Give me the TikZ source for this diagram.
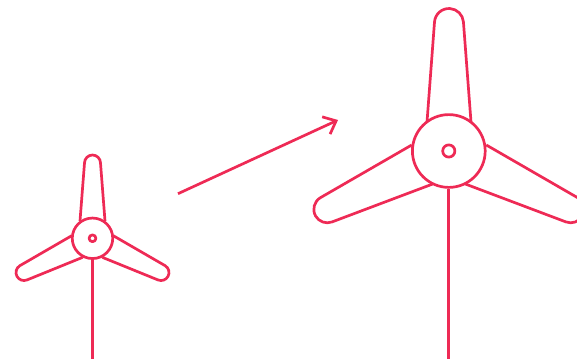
\documentclass[tikz,border=0pt]{standalone}
\usepackage{xcolor}
\usepackage{tikz}
\usetikzlibrary{arrows.meta,positioning}
\definecolor{turbinered}{HTML}{EE2A55}

\begin{document}
\begin{tikzpicture}[
x=1pt, y=-1pt,
line/.style={draw=turbinered, line width=2.7pt, line join=round},
hub/.style={circle, line, fill=white, inner sep=0pt, minimum size=#1},
arr/.style={line, -{Straight Barb[length=11pt, width=19pt]}}
]
\useasboundingbox (0,0) rectangle (577,359);
\clip (0,0) rectangle (577,359);
% small turbine
\draw[line] (80,221) -- (84.5,163) arc[start angle=180, end angle=0, radius=8pt] -- (105,221);
\draw[line] (71.7,235.7) -- (20,265.6) arc[start angle=120, end angle=292, radius=8pt] -- (82.7,257.3);
\draw[line] (113.3,235.7) -- (165,265.6) arc[start angle=60, end angle=-112, radius=8pt] -- (102.3,257.3);
\node[hub=40.5pt] (hubsmall) at (92.5,238.3) {};
\node[hub=6.8pt] (axlesmall) at (92.5,238.3) {};
\coordinate (basesmall) at (92.5,359);
\draw[line] (hubsmall) -- (basesmall);
% large turbine
\draw[line] (427,122) -- (434.5,22) arc[start angle=176, end angle=4, radius=14.5pt] -- (471,122);
\draw[line] (411.7,145) -- (320.55,197.6) arc[start angle=120, end angle=290.7, radius=13.5pt] -- (432.7,184);
\draw[line] (486.3,145) -- (577.45,197.6) arc[start angle=60, end angle=-110.7, radius=13.5pt] -- (465.3,184);
\node[hub=72.8pt] (hublarge) at (448.8,151) {};
\node[hub=12.2pt] (axlelarge) at (448.8,151) {};
\coordinate (baselarge) at (448.8,359);
\draw[line] (hublarge) -- (baselarge);
% growth arrow
\coordinate (from) at (178,193.7);
\coordinate (to) at (338,120);
\draw[arr] (from) -- (to);
\end{tikzpicture}
\end{document}
